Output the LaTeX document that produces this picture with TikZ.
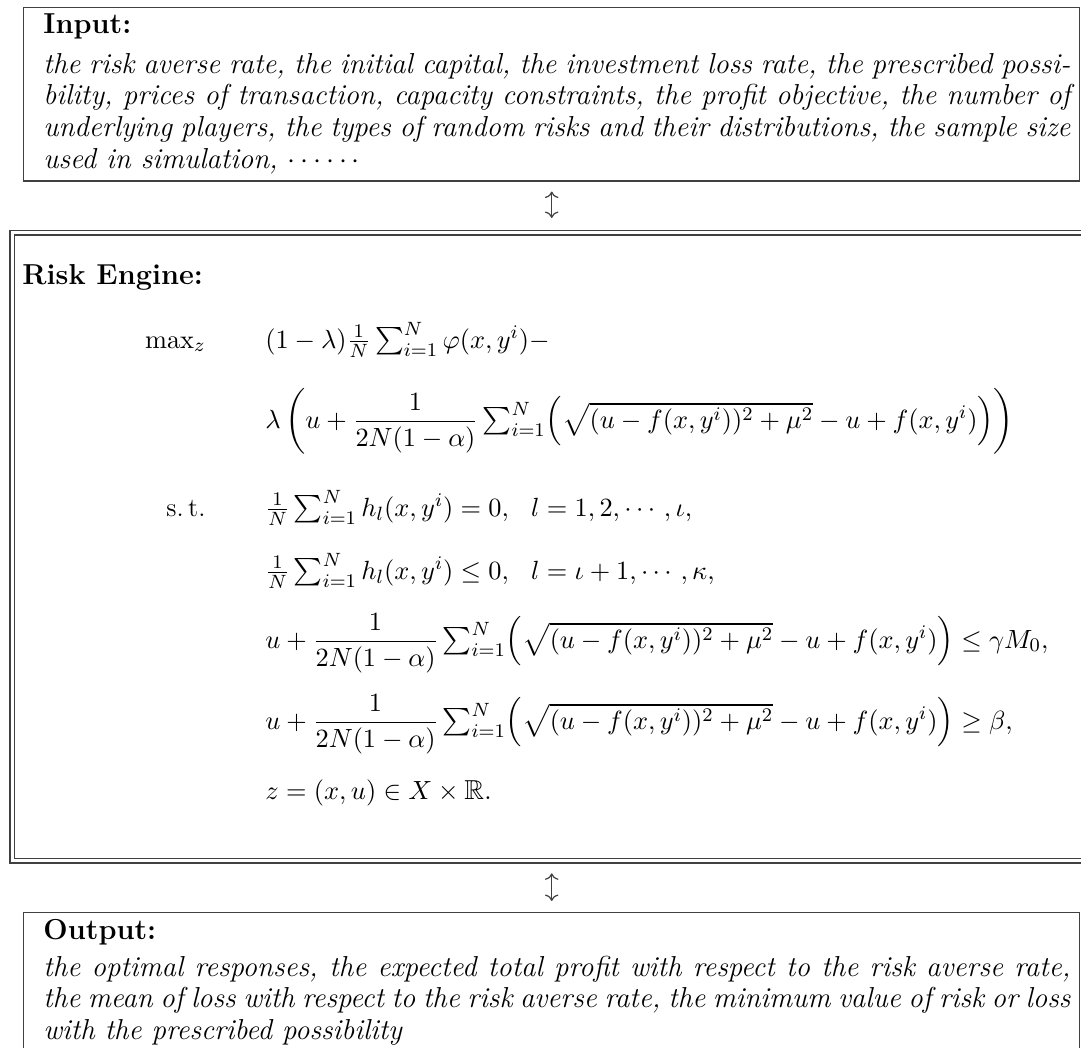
\documentclass[tikz,border=0pt]{standalone}
\usepackage{amsmath,amssymb}
\usetikzlibrary{arrows.meta}
\tikzset{
  frame/.style={draw=black!75, line width=0.6pt, inner sep=0pt, anchor=north west},
  dframe/.style={draw=black!75, line width=0.6pt, double=white, double distance=1.27pt, inner sep=0pt, anchor=north west},
  lab/.style={anchor=base west, inner sep=0pt, font=\fontsize{12}{14}\selectfont\bfseries},
  body/.style={anchor=base west, inner sep=0pt},
  eq/.style={anchor=base west, inner sep=0pt, font=\fontsize{11.4}{14}\selectfont},
  eqlab/.style={anchor=base east, inner sep=0pt, font=\fontsize{11}{13.6}\selectfont},
  link/.style={draw=black!75, line width=0.5pt, {Computer Modern Rightarrow[]}-{Computer Modern Rightarrow[]}}
}
\newcommand{\jl}[1]{\makebox[\linewidth][s]{#1}\\}
\newcommand{\cvarterm}{\dfrac{1}{2N(1-\alpha)}\sum_{i=1}^N\Bigl(\sqrt{(u-f(x,y^i))^2+\mu^2}-u+f(x,y^i)\Bigr)}
\begin{document}
\begin{tikzpicture}[x=0.416pt,y=-0.416pt]
\useasboundingbox (0,0) rectangle (1081,1048);
\clip (0,0) rectangle (1081,1048);
% boxes
\node[frame, minimum width=439.3pt, minimum height=72.0pt] (input) at (23,7) {};
\node[dframe, minimum width=450.7pt, minimum height=261.2pt] (engine) at (11.5,232) {};
\node[frame, minimum width=439.3pt, minimum height=66.6pt] (output) at (23,912) {};
% arrows
\draw[link, shorten <=4.16pt, shorten >=5.82pt] (input.south) -- (input.south |- engine.north);
\draw[link, shorten <=4.99pt, shorten >=4.58pt] (input.south |- engine.south) -- (input.south |- output.north);
% input text
\node[lab] (inlab) at (43,34) {Input:};
\node[body] (intext) at (43,73) {\begin{minipage}[t]{427.2pt}\fontsize{12}{13.2}\selectfont\itshape
\jl{the risk averse rate, the initial capital, the investment loss rate, the prescribed possi-}
\jl{bility, prices of transaction, capacity constraints, the profit objective, the number of}
\jl{underlying players, the types of random risks and their distributions, the sample size}
used in simulation, $\cdots\cdots$
\end{minipage}};
% engine
\node[lab] (englab) at (22,284) {Risk Engine:};
\node[eqlab] (max) at (206,348) {$\max_z$};
\node[eq] (l1) at (265,348) {$(1-\lambda)\frac{1}{N}\sum_{i=1}^N\varphi(x,y^i)-$};
\node[eq] (l2) at (265,428) {$\lambda\left(u+\cvarterm\right)$};
\node[eqlab] (st) at (206,516) {s.\,t.};
\node[eq] (l3) at (265,516) {$\frac{1}{N}\sum_{i=1}^N h_l(x,y^i)=0,\ \ l=1,2,\cdots,\iota,$};
\node[eq] (l4) at (265,579) {$\frac{1}{N}\sum_{i=1}^N h_l(x,y^i)\le0,\ \ l=\iota+1,\cdots,\kappa,$};
\node[eq] (l5) at (265,648) {$u+\cvarterm\le\gamma M_0,$};
\node[eq] (l6) at (265,729) {$u+\cvarterm\ge\beta,$};
\node[eq] (l7) at (265,799) {$z=(x,u)\in X\times\mathbb{R}.$};
% output text
\node[lab] (outlab) at (43,939) {Output:};
\node[body] (outtext) at (43,976) {\begin{minipage}[t]{427.2pt}\fontsize{12}{13.2}\selectfont\itshape
\jl{the optimal responses, the expected total profit with respect to the risk averse rate,}
\jl{the mean of loss with respect to the risk averse rate, the minimum value of risk or loss}
with the prescribed possibility
\end{minipage}};
\end{tikzpicture}
\end{document}
